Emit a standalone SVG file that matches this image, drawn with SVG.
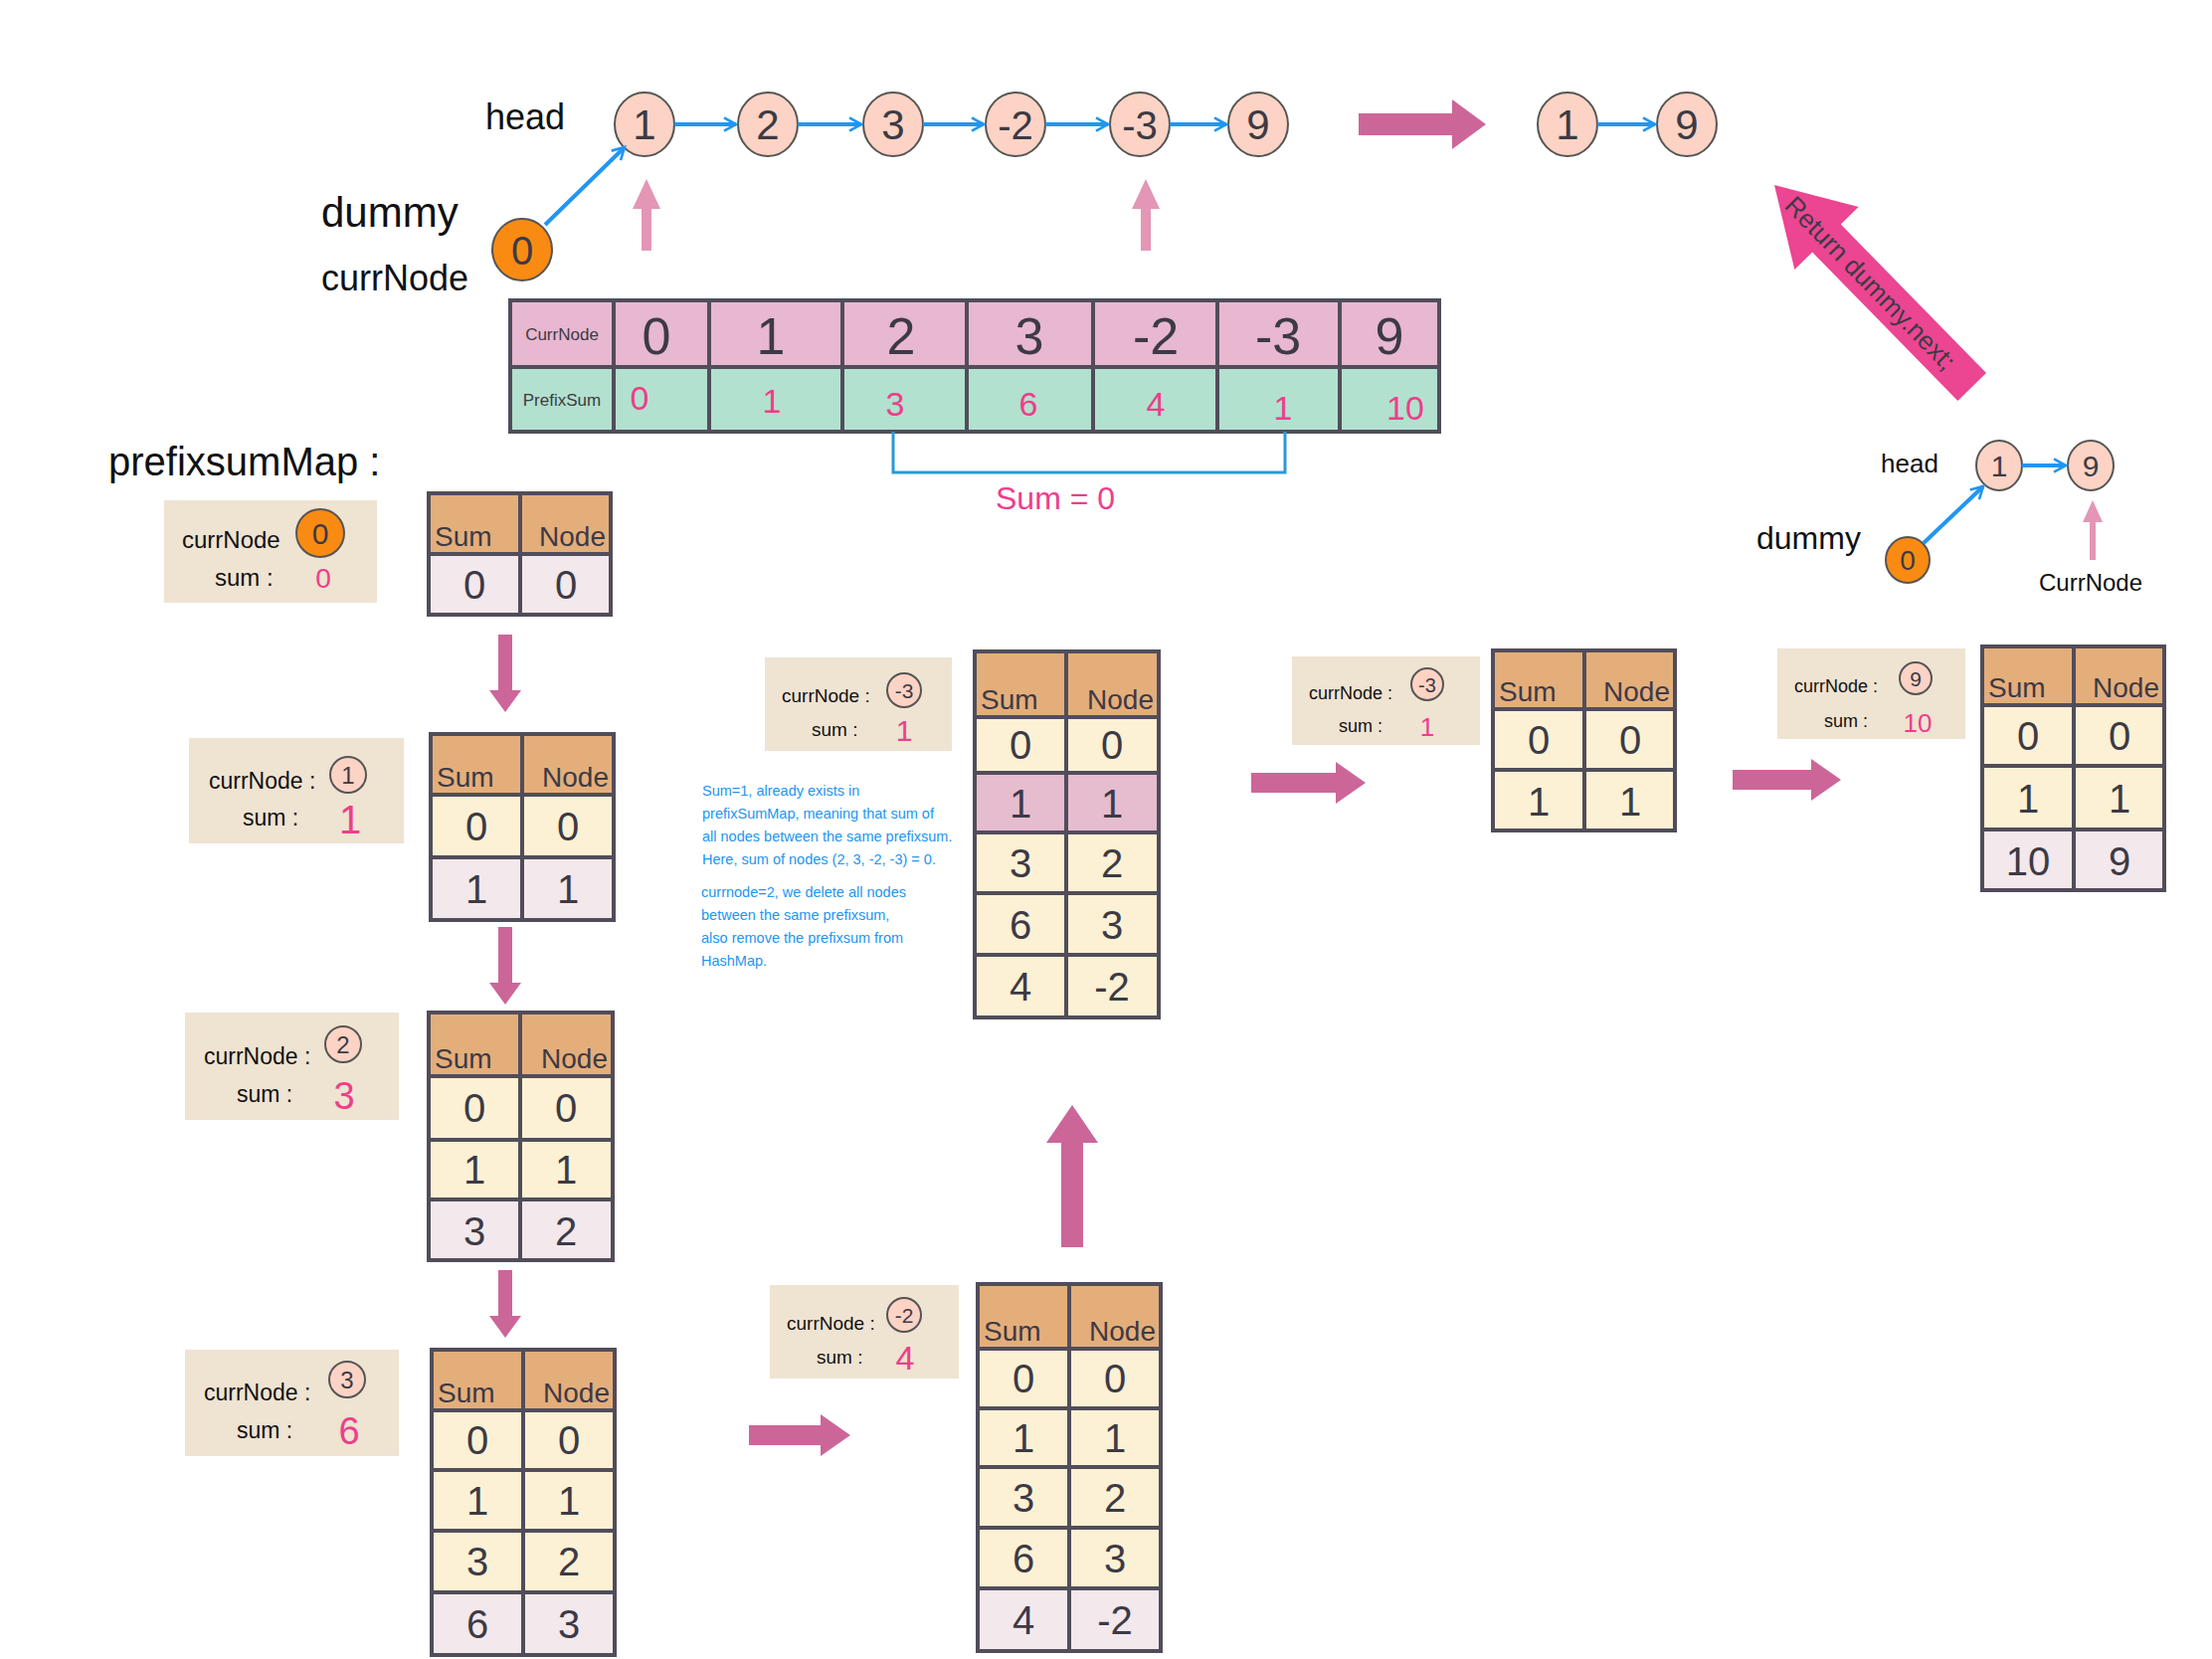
<svg xmlns="http://www.w3.org/2000/svg" width="2224" height="1668" viewBox="0 0 2224 1668">
<defs>
<marker id="bh" viewBox="0 0 12 12" refX="10" refY="6" markerWidth="4" markerHeight="4" orient="auto" markerUnits="strokeWidth">
<path d="M1,1 L10,6 L1,11" fill="none" stroke="#2196f3" stroke-width="2"/>
</marker>
<style>
text{font-family:"Liberation Sans","DejaVu Sans",sans-serif;}
.lbl{fill:#111;}
.nd{fill:#fcd3c4;stroke:#555;stroke-width:2;}
.or{fill:#f98b12;stroke:#555;stroke-width:2;}
.nt{fill:#3d3a45;text-anchor:middle;}
.blue{stroke:#2196f3;stroke-width:4;fill:none;marker-end:url(#bh);}
.pk{fill:#cc6699;}
.lpk{fill:#e396b5;}
.box{fill:#efe3d2;}
.hd{fill:#e4ae7b;}
.cr{fill:#fcf1d4;}
.lv{fill:#f3e8ec;}
.hl{fill:#e6bccf;}
.tl{fill:none;stroke:#514d5a;stroke-width:4;}
.tv{fill:#3d3a45;text-anchor:middle;font-size:40px;}
.th{fill:#3d3a45;font-size:28px;}
.pv{fill:#ee3e8a;}
.bt{fill:#2196f3;font-size:14.5px;}
</style>
</defs>

<!-- top linked list -->
<g id="label-head"><text class="lbl" x="488" y="130" font-size="36">head</text></g>
<g id="label-dummy"><text class="lbl" x="323" y="228" font-size="42">dummy</text></g>
<g id="label-currNode"><text class="lbl" x="323" y="292" font-size="36">currNode</text></g>
<g id="dummy0"><ellipse class="or" cx="525" cy="251" rx="30" ry="31"/><text class="nt" x="525" y="266" font-size="40" fill="#111">0</text></g>
<g id="n1"><ellipse class="nd" cx="648" cy="125" rx="30" ry="32"/><text class="nt" x="648" y="140" font-size="42">1</text></g>
<g id="n2"><ellipse class="nd" cx="772" cy="125" rx="30" ry="32"/><text class="nt" x="772" y="140" font-size="42">2</text></g>
<g id="n3"><ellipse class="nd" cx="898" cy="125" rx="30" ry="32"/><text class="nt" x="898" y="140" font-size="42">3</text></g>
<g id="n4"><ellipse class="nd" cx="1021" cy="125" rx="30" ry="32"/><text class="nt" x="1021" y="140" font-size="40">-2</text></g>
<g id="n5"><ellipse class="nd" cx="1146" cy="125" rx="30" ry="32"/><text class="nt" x="1146" y="140" font-size="40">-3</text></g>
<g id="n6"><ellipse class="nd" cx="1265" cy="125" rx="30" ry="32"/><text class="nt" x="1265" y="140" font-size="42">9</text></g>
<g id="r1"><ellipse class="nd" cx="1576" cy="125" rx="30" ry="32"/><text class="nt" x="1576" y="140" font-size="42">1</text></g>
<g id="r9"><ellipse class="nd" cx="1696" cy="125" rx="30" ry="32"/><text class="nt" x="1696" y="140" font-size="42">9</text></g>

<!-- top table -->
<g id="prefix-table">
<rect x="513" y="302" width="934" height="67" fill="#e8b7d0"/>
<rect x="513" y="369" width="934" height="65" fill="#b2e1cf"/>
<rect class="tl" x="513" y="302" width="934" height="132" stroke-width="3"/>
<path class="tl" stroke-width="3" d="M513,369H1447M617,302V434M713,302V434M847,302V434M972,302V434M1099,302V434M1224,302V434M1347,302V434"/>
<text x="565" y="342" font-size="17" fill="#3d3a45" text-anchor="middle">CurrNode</text>
<text x="565" y="408" font-size="17" fill="#3d3a45" text-anchor="middle">PrefixSum</text>
<g class="nt" font-size="52">
<text x="660" y="356">0</text><text x="775" y="356">1</text><text x="906" y="356">2</text><text x="1035" y="356">3</text><text x="1162" y="356">-2</text><text x="1285" y="356">-3</text><text x="1397" y="356">9</text>
</g>
<g class="pv" text-anchor="middle" font-size="34">
<text x="643" y="412">0</text><text x="776" y="415">1</text><text x="900" y="418">3</text><text x="1034" y="418">6</text><text x="1162" y="418">4</text><text x="1290" y="422">1</text><text x="1413" y="422">10</text>
</g>
</g>
<g id="label-sum0"><text x="1001" y="512" font-size="32" fill="#ee3e8a">Sum = 0</text></g>

<!-- prefixsumMap label -->
<g id="label-map"><text class="lbl" x="109" y="478" font-size="40">prefixsumMap :</text></g>

<!-- step 1 -->
<g id="info1">
<rect class="box" x="165" y="503" width="214" height="103"/>
<text class="lbl" x="183" y="551" font-size="24">currNode</text>
<ellipse class="or" cx="322" cy="536" rx="24" ry="24"/><text class="nt" x="322" y="547" font-size="30" fill="#111">0</text>
<text class="lbl" x="216" y="589" font-size="24">sum :</text>
<text class="pv" x="325" y="591" font-size="28" text-anchor="middle">0</text>
</g>
<g id="table1">
<rect class="hd" x="431" y="496" width="183" height="61"/>
<rect class="lv" x="431" y="557" width="183" height="61"/>
<rect class="tl" x="431" y="496" width="183" height="122"/>
<path class="tl" d="M431,557H614M523,496V618"/>
<text class="th" x="437" y="549">Sum</text><text class="th" x="609" y="549" text-anchor="end">Node</text>
<text class="tv" x="477" y="602">0</text><text class="tv" x="569" y="602">0</text>
</g>

<!-- step 2 -->
<g id="info2">
<rect class="box" x="190" y="742" width="216" height="106"/>
<text class="lbl" x="210" y="793" font-size="23">currNode :</text>
<circle class="nd" cx="350" cy="779" r="18"/><text class="nt" x="350" y="788" font-size="24">1</text>
<text class="lbl" x="244" y="830" font-size="23">sum :</text>
<text class="pv" x="352" y="838" font-size="40" text-anchor="middle">1</text>
</g>
<g id="table2">
<rect class="hd" x="433" y="738" width="184" height="61"/>
<rect class="cr" x="433" y="799" width="184" height="63"/>
<rect class="lv" x="433" y="862" width="184" height="63"/>
<rect class="tl" x="433" y="738" width="184" height="187"/>
<path class="tl" d="M433,799H617M433,862H617M525,738V925"/>
<text class="th" x="439" y="791">Sum</text><text class="th" x="612" y="791" text-anchor="end">Node</text>
<text class="tv" x="479" y="845">0</text><text class="tv" x="571" y="845">0</text>
<text class="tv" x="479" y="908">1</text><text class="tv" x="571" y="908">1</text>
</g>

<!-- step 3 -->
<g id="info3">
<rect class="box" x="186" y="1018" width="215" height="108"/>
<text class="lbl" x="205" y="1070" font-size="23">currNode :</text>
<circle class="nd" cx="345" cy="1050" r="18"/><text class="nt" x="345" y="1059" font-size="24">2</text>
<text class="lbl" x="238" y="1108" font-size="23">sum :</text>
<text class="pv" x="346" y="1115" font-size="38" text-anchor="middle">3</text>
</g>
<g id="table3">
<rect class="hd" x="431" y="1018" width="185" height="64"/>
<rect class="cr" x="431" y="1082" width="185" height="124"/>
<rect class="lv" x="431" y="1206" width="185" height="61"/>
<rect class="tl" x="431" y="1018" width="185" height="249"/>
<path class="tl" d="M431,1082H616M431,1146H616M431,1206H616M523,1018V1267"/>
<text class="th" x="437" y="1074">Sum</text><text class="th" x="611" y="1074" text-anchor="end">Node</text>
<text class="tv" x="477" y="1128">0</text><text class="tv" x="569" y="1128">0</text>
<text class="tv" x="477" y="1190">1</text><text class="tv" x="569" y="1190">1</text>
<text class="tv" x="477" y="1252">3</text><text class="tv" x="569" y="1252">2</text>
</g>

<!-- step 4 -->
<g id="info4">
<rect class="box" x="186" y="1357" width="215" height="107"/>
<text class="lbl" x="205" y="1408" font-size="23">currNode :</text>
<circle class="nd" cx="349" cy="1387" r="18"/><text class="nt" x="349" y="1396" font-size="24">3</text>
<text class="lbl" x="238" y="1446" font-size="23">sum :</text>
<text class="pv" x="351" y="1452" font-size="38" text-anchor="middle">6</text>
</g>
<g id="table4">
<rect class="hd" x="434" y="1357" width="184" height="61"/>
<rect class="cr" x="434" y="1418" width="184" height="183"/>
<rect class="lv" x="434" y="1601" width="184" height="63"/>
<rect class="tl" x="434" y="1357" width="184" height="307"/>
<path class="tl" d="M434,1418H618M434,1478H618M434,1539H618M434,1601H618M526,1357V1664"/>
<text class="th" x="440" y="1410">Sum</text><text class="th" x="613" y="1410" text-anchor="end">Node</text>
<text class="tv" x="480" y="1462">0</text><text class="tv" x="572" y="1462">0</text>
<text class="tv" x="480" y="1523">1</text><text class="tv" x="572" y="1523">1</text>
<text class="tv" x="480" y="1584">3</text><text class="tv" x="572" y="1584">2</text>
<text class="tv" x="480" y="1647">6</text><text class="tv" x="572" y="1647">3</text>
</g>

<!-- step 5 -->
<g id="info5">
<rect class="box" x="774" y="1292" width="190" height="94"/>
<text class="lbl" x="791" y="1337" font-size="19">currNode :</text>
<circle class="nd" cx="909" cy="1322" r="17"/><text class="nt" x="909" y="1330" font-size="21">-2</text>
<text class="lbl" x="821" y="1371" font-size="19">sum :</text>
<text class="pv" x="910" y="1377" font-size="34" text-anchor="middle">4</text>
</g>
<g id="table5">
<rect class="hd" x="983" y="1291" width="184" height="65"/>
<rect class="cr" x="983" y="1356" width="184" height="241"/>
<rect class="lv" x="983" y="1597" width="184" height="63"/>
<rect class="tl" x="983" y="1291" width="184" height="369"/>
<path class="tl" d="M983,1356H1167M983,1416H1167M983,1475H1167M983,1536H1167M983,1597H1167M1075,1291V1660"/>
<text class="th" x="989" y="1348">Sum</text><text class="th" x="1162" y="1348" text-anchor="end">Node</text>
<text class="tv" x="1029" y="1400">0</text><text class="tv" x="1121" y="1400">0</text>
<text class="tv" x="1029" y="1460">1</text><text class="tv" x="1121" y="1460">1</text>
<text class="tv" x="1029" y="1520">3</text><text class="tv" x="1121" y="1520">2</text>
<text class="tv" x="1029" y="1581">6</text><text class="tv" x="1121" y="1581">3</text>
<text class="tv" x="1029" y="1643">4</text><text class="tv" x="1121" y="1643">-2</text>
</g>

<!-- step 6 -->
<g id="info6">
<rect class="box" x="769" y="661" width="188" height="94"/>
<text class="lbl" x="786" y="706" font-size="19">currNode :</text>
<circle class="nd" cx="909" cy="694" r="17"/><text class="nt" x="909" y="702" font-size="21">-3</text>
<text class="lbl" x="816" y="740" font-size="19">sum :</text>
<text class="pv" x="909" y="745" font-size="30" text-anchor="middle">1</text>
</g>
<g id="note">
<text class="bt" x="706" y="800">Sum=1, already exists in</text>
<text class="bt" x="706" y="823">prefixSumMap, meaning that sum of</text>
<text class="bt" x="706" y="846">all nodes between the same prefixsum.</text>
<text class="bt" x="706" y="869">Here, sum of nodes (2, 3, -2, -3) = 0.</text>
<text class="bt" x="705" y="902" font-size="15.5">currnode=2, we delete all nodes</text>
<text class="bt" x="705" y="925" font-size="15.5">between the same prefixsum,</text>
<text class="bt" x="705" y="948" font-size="15.5">also remove the prefixsum from</text>
<text class="bt" x="705" y="971" font-size="15.5">HashMap.</text>
</g>
<g id="table6">
<rect class="hd" x="980" y="655" width="185" height="66"/>
<rect class="cr" x="980" y="721" width="185" height="302"/>
<rect class="hl" x="980" y="777" width="185" height="60"/>
<rect class="tl" x="980" y="655" width="185" height="368"/>
<path class="tl" d="M980,721H1165M980,777H1165M980,837H1165M980,898H1165M980,960H1165M1072,655V1023"/>
<text class="th" x="986" y="713">Sum</text><text class="th" x="1160" y="713" text-anchor="end">Node</text>
<text class="tv" x="1026" y="763">0</text><text class="tv" x="1118" y="763">0</text>
<text class="tv" x="1026" y="822">1</text><text class="tv" x="1118" y="822">1</text>
<text class="tv" x="1026" y="882">3</text><text class="tv" x="1118" y="882">2</text>
<text class="tv" x="1026" y="944">6</text><text class="tv" x="1118" y="944">3</text>
<text class="tv" x="1026" y="1006">4</text><text class="tv" x="1118" y="1006">-2</text>
</g>

<!-- step 7 -->
<g id="info7">
<rect class="box" x="1299" y="660" width="189" height="89"/>
<text class="lbl" x="1316" y="703" font-size="18">currNode :</text>
<circle class="nd" cx="1435" cy="688" r="16"/><text class="nt" x="1435" y="696" font-size="20">-3</text>
<text class="lbl" x="1346" y="736" font-size="18">sum :</text>
<text class="pv" x="1435" y="740" font-size="26" text-anchor="middle">1</text>
</g>
<g id="table7">
<rect class="hd" x="1501" y="654" width="183" height="59"/>
<rect class="cr" x="1501" y="713" width="183" height="122"/>
<rect class="tl" x="1501" y="654" width="183" height="181"/>
<path class="tl" d="M1501,713H1684M1501,774H1684M1593,654V835"/>
<text class="th" x="1507" y="705">Sum</text><text class="th" x="1679" y="705" text-anchor="end">Node</text>
<text class="tv" x="1547" y="758" font-size="44">0</text><text class="tv" x="1639" y="758" font-size="44">0</text>
<text class="tv" x="1547" y="820" font-size="44">1</text><text class="tv" x="1639" y="820" font-size="44">1</text>
</g>

<!-- step 8 -->
<g id="info8">
<rect class="box" x="1787" y="652" width="189" height="91"/>
<text class="lbl" x="1804" y="696" font-size="18">currNode :</text>
<circle class="nd" cx="1926" cy="682" r="16"/><text class="nt" x="1926" y="690" font-size="21">9</text>
<text class="lbl" x="1834" y="731" font-size="18">sum :</text>
<text class="pv" x="1928" y="736" font-size="26" text-anchor="middle">10</text>
</g>
<g id="table8">
<rect class="hd" x="1993" y="650" width="183" height="59"/>
<rect class="cr" x="1993" y="709" width="183" height="125"/>
<rect class="lv" x="1993" y="834" width="183" height="61"/>
<rect class="tl" x="1993" y="650" width="183" height="245"/>
<path class="tl" d="M1993,709H2176M1993,770H2176M1993,834H2176M2085,650V895"/>
<text class="th" x="1999" y="701">Sum</text><text class="th" x="2171" y="701" text-anchor="end">Node</text>
<text class="tv" x="2039" y="754">0</text><text class="tv" x="2131" y="754">0</text>
<text class="tv" x="2039" y="817">1</text><text class="tv" x="2131" y="817">1</text>
<text class="tv" x="2039" y="880">10</text><text class="tv" x="2131" y="880">9</text>
</g>

<!-- small result list -->
<g id="label-head2"><text class="lbl" x="1891" y="475" font-size="26">head</text></g>
<g id="label-dummy2"><text class="lbl" x="1766" y="552" font-size="32">dummy</text></g>
<g id="label-currNode2"><text class="lbl" x="2050" y="594" font-size="24">CurrNode</text></g>
<g id="s-dummy"><ellipse class="or" cx="1918" cy="563" rx="22" ry="23"/><text class="nt" x="1918" y="573" font-size="28" fill="#111">0</text></g>
<g id="s1"><ellipse class="nd" cx="2010" cy="468" rx="23" ry="25"/><text class="nt" x="2010" y="479" font-size="30">1</text></g>
<g id="s9"><ellipse class="nd" cx="2102" cy="468" rx="23" ry="25"/><text class="nt" x="2102" y="479" font-size="30">9</text></g>

<!-- connectors -->
<g id="connectors">
<line class="blue" x1="678" y1="125" x2="740" y2="125"/>
<line class="blue" x1="802" y1="125" x2="866" y2="125"/>
<line class="blue" x1="928" y1="125" x2="989" y2="125"/>
<line class="blue" x1="1051" y1="125" x2="1114" y2="125"/>
<line class="blue" x1="1176" y1="125" x2="1233" y2="125"/>
<line class="blue" x1="1606" y1="125" x2="1664" y2="125"/>
<line class="blue" x1="548" y1="226" x2="628" y2="148"/>
<line class="blue" x1="2033" y1="468" x2="2077" y2="468" stroke-width="3"/>
<line class="blue" x1="1934" y1="546" x2="1994" y2="489" stroke-width="3"/>
<path d="M898,434V475H1292V434" fill="none" stroke="#2a9ad6" stroke-width="3"/>
<polygon class="lpk" points="645,252 645,210 636,210 650,180 664,210 655,210 655,252"/>
<polygon class="lpk" points="1147,252 1147,210 1138,210 1152,180 1166,210 1157,210 1157,252"/>
<polygon class="lpk" points="2101,563 2101,525 2094,525 2104,503 2114,525 2107,525 2107,563"/>
<polygon class="pk" points="1366,114 1460,114 1460,100 1494,125 1460,150 1460,136 1366,136"/>
<polygon class="pk" points="1258,777 1343,777 1343,766 1373,787 1343,808 1343,797 1258,797"/>
<polygon class="pk" points="1742,774 1821,774 1821,763 1851,784 1821,805 1821,794 1742,794"/>
<polygon class="pk" points="753,1433 825,1433 825,1422 855,1443 825,1464 825,1453 753,1453"/>
<polygon class="pk" points="501,638 515,638 515,694 524,694 508,716 492,694 501,694"/>
<polygon class="pk" points="501,932 515,932 515,988 524,988 508,1010 492,988 501,988"/>
<polygon class="pk" points="501,1277 515,1277 515,1323 524,1323 508,1345 492,1323 501,1323"/>
<polygon class="pk" points="1067,1254 1089,1254 1089,1149 1104,1149 1078,1111 1052,1149 1067,1149"/>
<g id="return-arrow" transform="translate(1784,186) rotate(45.6)">
<polygon points="0,0 75,-45 75,-20 284,-20 284,20 75,20 75,45" fill="#ec4592"/>
<text x="22" y="9" font-size="26" fill="#3d3a45">Return dummy.next;</text>
</g>
</g>
</svg>
